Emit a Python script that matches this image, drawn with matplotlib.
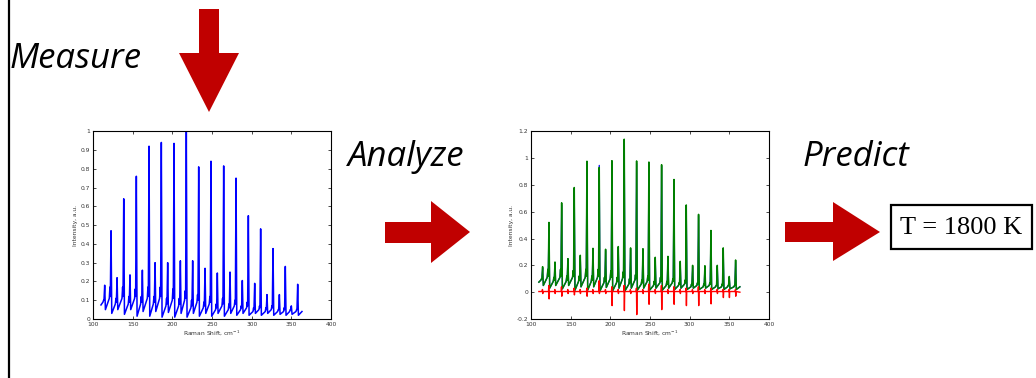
import numpy as np
import matplotlib.pyplot as plt
from matplotlib.patches import Polygon, Rectangle

# ── Spectrum data (Raman shift in cm^-1) ─────────────────────────────────────
peak_x = [114.7, 122.7, 130.3, 138.7, 146.6, 154.6, 162.2, 170.6, 178.2, 186.1,
          194.1, 202.1, 210.1, 217.6, 225.6, 233.2, 241.2, 248.7, 256.7, 264.7,
          272.7, 280.3, 288.2, 295.8, 303.8, 311.3, 319.3, 326.9, 334.9, 342.4,
          350.0, 358.0]
meas_peak = [0.18, 0.47, 0.22, 0.64, 0.235, 0.76, 0.26, 0.92, 0.30, 0.94,
             0.30, 0.935, 0.31, 1.00, 0.31, 0.81, 0.27, 0.84, 0.245, 0.815,
             0.25, 0.75, 0.205, 0.55, 0.19, 0.48, 0.13, 0.375, 0.13, 0.28,
             0.07, 0.185]
shoulder_y = [0.10, 0.17, 0.11, 0.17, 0.12, 0.16, 0.12, 0.17, 0.12, 0.17,
              0.11, 0.16, 0.11, 0.15, 0.10, 0.13, 0.09, 0.12, 0.08, 0.11,
              0.08, 0.10, 0.07, 0.09, 0.06, 0.07, 0.06, 0.07, 0.05, 0.06,
              0.05, 0.05]
foot_y = [0.09, 0.11, 0.08, 0.11, 0.08, 0.11, 0.08, 0.11, 0.08, 0.11,
          0.07, 0.10, 0.07, 0.10, 0.06, 0.09, 0.06, 0.08, 0.05, 0.07,
          0.05, 0.07, 0.05, 0.06, 0.04, 0.05, 0.04, 0.05, 0.04, 0.04,
          0.04, 0.04]
valley_y = [0.05, 0.03, 0.05, 0.025, 0.05, 0.015, 0.04, 0.015, 0.04, 0.01,
            0.035, 0.01, 0.03, 0.01, 0.03, 0.015, 0.03, 0.015, 0.03, 0.015,
            0.03, 0.02, 0.03, 0.02, 0.03, 0.02, 0.03, 0.02, 0.025, 0.02,
            0.025, 0.02]
x_start, y_start = 110.0, 0.075
x_end, y_end = 363.4, 0.04

# fitted spectrum (second panel)
fit_peak = [0.19, 0.52, 0.225, 0.666, 0.25, 0.78, 0.275, 0.976, 0.327, 0.93,
            0.32, 0.98, 0.34, 1.14, 0.33, 0.978, 0.324, 0.97, 0.26, 0.95,
            0.267, 0.84, 0.23, 0.65, 0.20, 0.58, 0.197, 0.46, 0.20, 0.33,
            0.117, 0.24]
meas2_peak = [0.18, 0.50, 0.22, 0.65, 0.25, 0.77, 0.27, 0.96, 0.32, 0.945,
              0.31, 0.97, 0.33, 1.13, 0.32, 0.96, 0.31, 0.96, 0.25, 0.94,
              0.26, 0.83, 0.22, 0.64, 0.19, 0.57, 0.19, 0.45, 0.19, 0.32,
              0.11, 0.23]
resid_pos = [0.02, 0.05, 0.02, 0.04, 0.02, 0.03, 0.02, 0.03, 0.02, 0.085,
             0.02, 0.04, 0.02, 0.05, 0.02, 0.03, 0.02, 0.06, 0.02, 0.05,
             0.02, 0.04, 0.02, 0.03, 0.02, 0.04, 0.02, 0.03, 0.02, 0.02,
             0.02, 0.02]
resid_neg = [-0.01, -0.05, -0.01, -0.03, -0.01, -0.02, -0.01, -0.03, -0.01, -0.01,
             -0.01, -0.10, -0.01, -0.137, -0.01, -0.167, -0.01, -0.09, -0.01, -0.13,
             -0.01, -0.09, -0.01, -0.10, -0.01, -0.10, -0.01, -0.087, -0.01, -0.04,
             -0.04, -0.03]


def sawtooth(peaks):
    xs, ys = [x_start], [y_start]
    for x, p, s, f, v in zip(peak_x, peaks, shoulder_y, foot_y, valley_y):
        xs += [x - 2.2, x - 1.4, x - 0.9, x, x + 0.9]
        ys += [f, s, f + 0.01, p, v]
    xs.append(x_end)
    ys.append(y_end)
    return xs, ys


def residual():
    xs, ys = [x_start], [0.005]
    for x, p, n in zip(peak_x, resid_pos, resid_neg):
        xs += [x - 0.6, x - 0.2, x + 0.2, x + 0.6]
        ys += [0.005, p, n, 0.005]
    xs.append(x_end)
    ys.append(0.0)
    return xs, ys


def style_axes(ax, ylim, yticks):
    ax.set_xlim(100, 400)
    ax.set_ylim(*ylim)
    ax.set_xticks(range(100, 401, 50))
    ax.set_yticks(yticks)
    ax.set_yticklabels([f"{t:g}" for t in yticks])
    ax.tick_params(direction="in", length=2, width=0.5, labelsize=4.3,
                   labelcolor="#333333", top=True, right=True, pad=2)
    for s in ax.spines.values():
        s.set_linewidth(0.8)
    ax.set_xlabel("Raman Shift, cm$^{-1}$", fontsize=4.3, color="#333333", labelpad=1)
    ax.set_ylabel("Intensity, a.u.", fontsize=4.3, color="#333333", labelpad=2)


fig = plt.figure(figsize=(10.36, 3.78), dpi=100)

# ── Panel 1: measured spectrum ───────────────────────────────────────────────
ax1 = fig.add_axes([0.0898, 0.156, 0.2297, 0.497])
mx, my = sawtooth(meas_peak)
ax1.plot(mx, my, color="#0000ff", lw=1.1)
style_axes(ax1, (0, 1), [round(0.1 * i, 1) for i in range(11)])

# ── Panel 2: measured, fitted and residual ──────────────────────────────────
ax2 = fig.add_axes([0.5125, 0.156, 0.2297, 0.497])
bx, by = sawtooth(meas2_peak)
gx, gy = sawtooth(fit_peak)
rx, ry = residual()
ax2.plot(bx, by, color="#0000ff", lw=0.9)
ax2.plot(gx, gy, color="#007f00", lw=1.1)
ax2.plot(rx, ry, color="#ff0000", lw=1.0)
style_axes(ax2, (-0.2, 1.2), [-0.2, 0, 0.2, 0.4, 0.6, 0.8, 1, 1.2])

# ── Overlay in pixel coordinates: arrows, labels, box ───────────────────────
ov = fig.add_axes([0, 0, 1, 1], zorder=-1)
ov.set_xlim(0, 1036)
ov.set_ylim(378, 0)
ov.axis("off")

red = "#c00000"
ov.plot([8.5, 8.5], [0, 378], color="black", lw=1.6)

down = [(199, 9), (219, 9), (219, 53), (239, 53), (209, 112), (179, 53), (199, 53)]
ov.add_patch(Polygon(down, closed=True, color=red, lw=0))

right1 = [(385, 222), (431, 222), (431, 201), (470, 232), (431, 263), (431, 243), (385, 243)]
ov.add_patch(Polygon(right1, closed=True, color=red, lw=0))
right2 = [(785, 222), (833, 222), (833, 202), (880, 232), (833, 261), (833, 242), (785, 242)]
ov.add_patch(Polygon(right2, closed=True, color=red, lw=0))

txt = dict(family=["Open Sans", "DejaVu Sans"], style="italic", fontsize=25, color="black")
ov.text(10, 68, "Measure", va="baseline", ha="left", **txt)
ov.text(348, 166, "Analyze", va="baseline", ha="left", **txt)
ov.text(803, 166, "Predict", va="baseline", ha="left", **txt)

ov.add_patch(Rectangle((891, 205), 141, 44, fill=False, ec="black", lw=1.6))
ov.text(961.5, 228, "T = 1800 K", ha="center", va="center",
        family="Liberation Serif", fontsize=19, color="black")

plt.savefig("out.png", dpi=100)
plt.close()
